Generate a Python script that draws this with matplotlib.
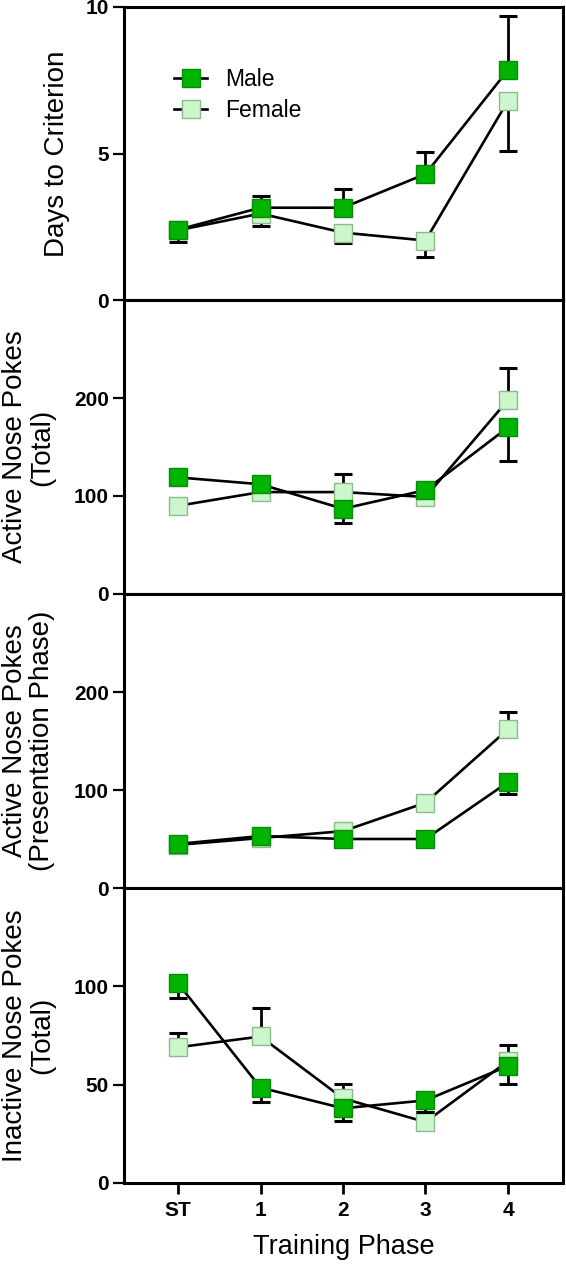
import matplotlib
matplotlib.use("Agg")
import matplotlib.pyplot as plt
import numpy as np
from matplotlib.lines import Line2D

plt.rcParams['font.family'] = ['Liberation Sans', 'DejaVu Sans']

phases = ["ST", "1", "2", "3", "4"]

# Panel 1: Days to Criterion (male error up, female error down)
days_male = [2.4, 3.15, 3.15, 4.3, 7.85]
days_male_err = [0.1, 0.4, 0.65, 0.75, 1.85]
days_female = [2.38, 2.95, 2.3, 2.03, 6.8]
days_female_err = [0.4, 0.42, 0.34, 0.57, 1.7]

# Panel 2: Active Nose Pokes (Total) (male error down, female error up)
act_male = [119, 112, 87, 106, 170]
act_male_err = [5, 5, 15, 5, 34]
act_female = [90, 104, 104, 99, 198]
act_female_err = [5, 5, 18, 5, 33]

# Panel 3: Active Nose Pokes (Presentation Phase)
pres_male = [45, 53, 50, 50, 108]
pres_male_err = [3, 3, 3, 3, 12]
pres_female = [44, 51, 58, 87, 162]
pres_female_err = [3, 3, 3, 4, 18]

# Panel 4: Inactive Nose Pokes (Total)
inact_male = [101.5, 48.5, 38, 42, 59.5]
inact_male_err = [7.5, 7.5, 6.5, 6, 9]
inact_female = [69, 74.5, 43, 31, 62]
inact_female_err = [7.5, 14.5, 7.5, 5, 8]

ylabels = ["Days to Criterion",
           "Active Nose Pokes\n(Total)",
           "Active Nose Pokes\n(Presentation Phase)",
           "Inactive Nose Pokes\n(Total)"]
yticks = [[0, 5, 10], [0, 100, 200], [0, 100, 200], [0, 50, 100]]
ylims = [(0, 10), (0, 300), (0, 300), (0, 150)]

panels = [
    (days_male, days_male_err, 1, days_female, days_female_err, -1),
    (act_male, act_male_err, -1, act_female, act_female_err, 1),
    (pres_male, pres_male_err, -1, pres_female, pres_female_err, 1),
    (inact_male, inact_male_err, -1, inact_female, inact_female_err, 1),
]

male_fc, male_ec = "#00b400", "#0a8a0a"
female_fc, female_ec = "#ccf7cc", "#8fb88f"

W, H = 566, 1265
fig = plt.figure(figsize=(W / 100, H / 100), dpi=100)

left_px, right_px = 124, 563
edges = [7, 300, 594, 888, 1183]
x = np.arange(len(phases))


def draw_err(ax, vals, errs, sign, z):
    vals = np.asarray(vals, dtype=float)
    ends = vals + sign * np.asarray(errs, dtype=float)
    ax.vlines(x, vals, ends, colors='black', lw=2.0, zorder=z)
    ax.plot(x, ends, ls='none', marker='_', ms=12.5, mew=2.2, color='black', zorder=z)


def draw_series(ax, vals, fc, ec, z):
    ax.plot(x, vals, color='black', lw=1.9, zorder=z)
    ax.plot(x, vals, ls='none', marker='s', ms=12.5, mfc=fc, mec=ec, mew=1.0, zorder=z + 0.5)


axes = []
for i in range(4):
    top, bot = edges[i], edges[i + 1]
    ax = fig.add_axes([left_px / W, 1 - bot / H, (right_px - left_px) / W, (bot - top) / H])
    axes.append(ax)
    m, me, ms_, f, fe, fs_ = panels[i]

    draw_err(ax, f, fe, fs_, 2)
    draw_series(ax, f, female_fc, female_ec, 3)
    draw_err(ax, m, me, ms_, 5)
    draw_series(ax, m, male_fc, male_ec, 6)

    ax.set_xlim(-0.655, 4.667)
    ax.set_ylim(*ylims[i])
    ax.set_yticks(yticks[i])
    ax.set_yticklabels([str(t) for t in yticks[i]], fontsize=15, fontweight='bold')
    for s in ax.spines.values():
        s.set_linewidth(2.2)
    ax.tick_params(axis='y', direction='out', length=8, width=1.6, pad=3)
    ax.set_ylabel(ylabels[i], fontsize=20, linespacing=1.05)
    if i == 0:
        ax.yaxis.set_label_coords(-0.123, 0.5)
    else:
        ax.yaxis.set_label_coords(-0.157, 0.5)
    if i < 3:
        ax.set_xticks([])
    else:
        ax.set_xticks(x)
        ax.set_xticklabels(phases, fontsize=15, fontweight='bold')
        ax.tick_params(axis='x', direction='out', length=8, width=2.0, pad=5)
        ax.set_xlabel("Training Phase", fontsize=19.5, labelpad=10)

# legend on top panel
ax0 = axes[0]
h_m = Line2D([], [], color='black', lw=1.9, marker='s', ms=12.5, mfc=male_fc, mec=male_ec, mew=1.0)
h_f = Line2D([], [], color='black', lw=1.9, marker='s', ms=12.5, mfc=female_fc, mec=female_ec, mew=1.0)
ax0.legend([h_m, h_f], ["Male", "Female"], loc='center left',
           bbox_to_anchor=(0.114, 0.70), frameon=False, fontsize=16.5,
           handlelength=1.45, handletextpad=0.8, labelspacing=0.35,
           borderpad=0, borderaxespad=0)

fig.savefig("out.png", dpi=100)
